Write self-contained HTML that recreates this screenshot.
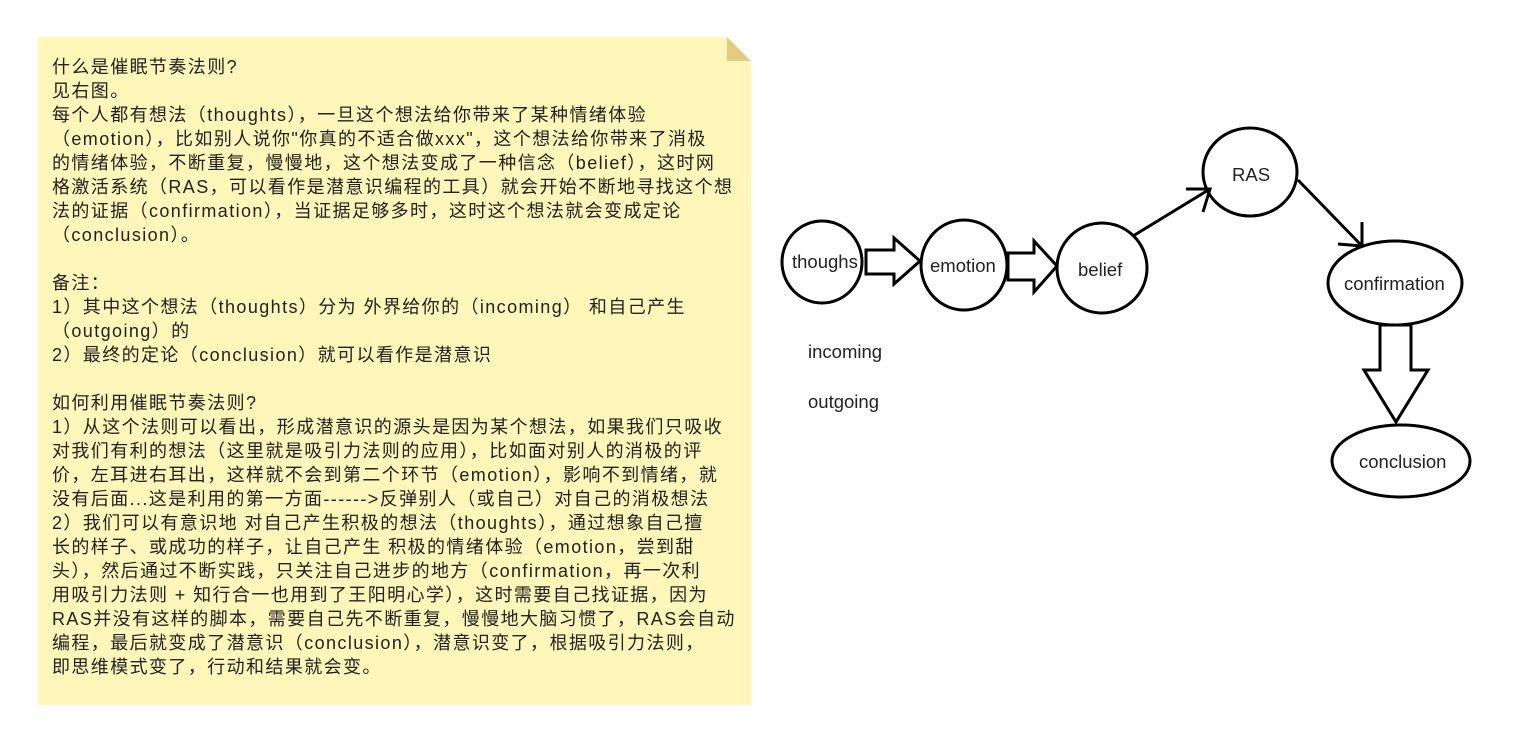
<!DOCTYPE html>
<html><head><meta charset="utf-8"><style>
html,body{margin:0;padding:0;background:#fff;}
body{width:1513px;height:742px;position:relative;overflow:hidden;}
.note{position:absolute;left:38px;top:37px;width:713px;height:668px;background:#fff6b9;
clip-path:polygon(0 0,689px 0,713px 24px,713px 100%,0 100%);}
.fold{position:absolute;left:727px;top:37px;width:24px;height:24px;background:#e3cb80;clip-path:polygon(0 0,100% 100%,0 100%);}
.txt{position:absolute;left:52px;top:55px;font-family:"Liberation Sans","Noto Sans CJK SC",sans-serif;font-size:18px;letter-spacing:1.4px;line-height:24px;color:#222;white-space:pre;}
svg{position:absolute;left:0;top:0;}
svg text{font-family:"Liberation Sans","Noto Sans CJK SC",sans-serif;font-size:18.5px;fill:#222;}
</style></head><body>
<div class="note"></div><div class="fold"></div>
<div class="txt">什么是催眠节奏法则?
见右图。
每个人都有想法（thoughts），一旦这个想法给你带来了某种情绪体验
（emotion），比如别人说你"你真的不适合做xxx"，这个想法给你带来了消极
的情绪体验，不断重复，慢慢地，这个想法变成了一种信念（belief），这时网
格激活系统（RAS，可以看作是潜意识编程的工具）就会开始不断地寻找这个想
法的证据（confirmation），当证据足够多时，这时这个想法就会变成定论
（conclusion）。

备注：
1）其中这个想法（thoughts）分为 外界给你的（incoming） 和自己产生
（outgoing）的
2）最终的定论（conclusion）就可以看作是潜意识

如何利用催眠节奏法则?
1）从这个法则可以看出，形成潜意识的源头是因为某个想法，如果我们只吸收
对我们有利的想法（这里就是吸引力法则的应用），比如面对别人的消极的评
价，左耳进右耳出，这样就不会到第二个环节（emotion），影响不到情绪，就
没有后面...这是利用的第一方面------&gt;反弹别人（或自己）对自己的消极想法
2）我们可以有意识地 对自己产生积极的想法（thoughts），通过想象自己擅
长的样子、或成功的样子，让自己产生 积极的情绪体验（emotion，尝到甜
头），然后通过不断实践，只关注自己进步的地方（confirmation，再一次利
用吸引力法则 + 知行合一也用到了王阳明心学），这时需要自己找证据，因为
RAS并没有这样的脚本，需要自己先不断重复，慢慢地大脑习惯了，RAS会自动
编程，最后就变成了潜意识（conclusion），潜意识变了，根据吸引力法则，
即思维模式变了，行动和结果就会变。</div>
<svg width="1513" height="742" viewBox="0 0 1513 742">
<g fill="none" stroke="#000" stroke-width="3">
<ellipse cx="822" cy="262" rx="40" ry="41"/>
<ellipse cx="964" cy="265" rx="43" ry="45"/>
<ellipse cx="1102" cy="268" rx="45" ry="45"/>
<ellipse cx="1250" cy="172" rx="47" ry="44"/>
<ellipse cx="1395" cy="283" rx="67" ry="42"/>
<ellipse cx="1401" cy="461" rx="69" ry="36"/>
<polygon points="866,250 894,250 894,238 920,261 894,284 894,274 866,274" stroke-linejoin="miter"/>
<polygon points="1008,253 1034,253 1034,241 1057,266 1034,292 1034,280 1008,280"/>
<polygon points="1380,325 1380,370 1364,370 1396,422 1428,370 1411,370 1411,325"/>
<line x1="1133" y1="236" x2="1210" y2="189"/>
<polyline points="1186,189 1210,189 1203,212"/>
<line x1="1298" y1="180" x2="1362" y2="246"/>
<polyline points="1362,222 1362,246 1338,244"/>
</g>
<text x="792" y="268">thoughs</text>
<text x="930" y="272">emotion</text>
<text x="1078" y="276">belief</text>
<text x="1232" y="181">RAS</text>
<text x="1344" y="290">confirmation</text>
<text x="1359" y="468">conclusion</text>
<text x="808" y="358">incoming</text>
<text x="808" y="408">outgoing</text>
</svg>
</body></html>
